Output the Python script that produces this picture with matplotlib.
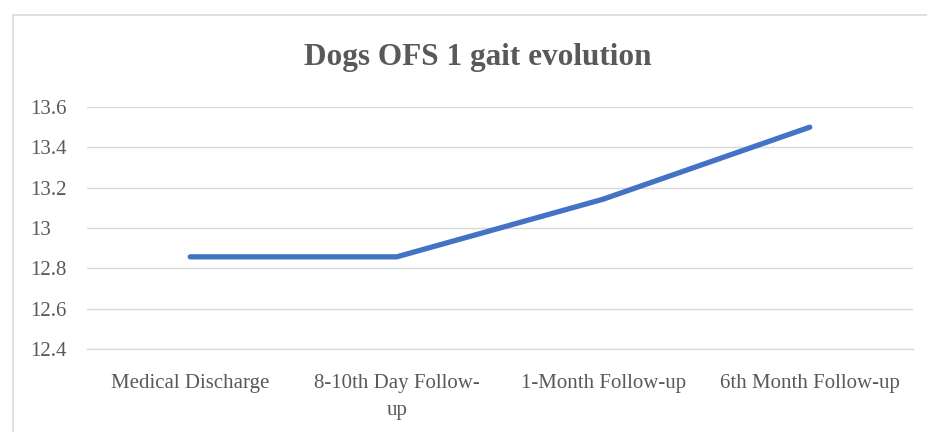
import matplotlib
matplotlib.use("Agg")
import matplotlib.pyplot as plt
import matplotlib.transforms as mtransforms
from matplotlib.patches import Rectangle

categories = ["Medical Discharge", "8-10th Day Follow-\nup", "1-Month Follow-up", "6th Month Follow-up"]
values = [12.857, 12.857, 13.143, 13.5]
yticks = [12.4, 12.6, 12.8, 13.0, 13.2, 13.4, 13.6]
ytick_labels = ["12.4", "12.6", "12.8", "13", "13.2", "13.4", "13.6"]

plt.rcParams['font.family'] = ['Liberation Serif', 'DejaVu Serif']
W, H = 927, 432
fig = plt.figure(figsize=(W/100, H/100), dpi=100)
fig.patch.set_facecolor("white")

ax = fig.add_axes([87/W, 83/H, (913-87)/W, (349-107)/H])
x = list(range(len(categories)))
ax.plot(x, values, color="#4472C4", linewidth=3.8, solid_capstyle="round",
        solid_joinstyle="round", zorder=3)
ax.set_xlim(-0.5, len(categories) - 0.5)
ax.set_ylim(12.4, 13.6)
ax.set_yticks(yticks)
ax.set_yticklabels(ytick_labels)
ax.set_xticks(x)
ax.set_xticklabels(categories, linespacing=1.6)
ax.grid(axis="y", color="#d9d9d9", linewidth=1)
ax.set_axisbelow(True)
for s in ["top", "right", "left"]:
    ax.spines[s].set_visible(False)
ax.spines["bottom"].set_color("#d9d9d9")
ax.spines["bottom"].set_linewidth(1)
ax.tick_params(axis="both", length=0, labelsize=15, labelcolor="#595959")
ax.tick_params(axis="x", pad=18)
for lbl in ax.get_yticklabels():
    lbl.set_horizontalalignment("left")
    lbl.set_transform(mtransforms.blended_transform_factory(fig.transFigure, ax.transData))
    lbl.set_x(30/W)

fig.text(478/W, 1 - 65/H, "Dogs OFS 1 gait evolution", ha="center", va="baseline",
         fontsize=22.5, fontweight="bold", color="#595959")

fig.patches.append(Rectangle((12.5/W, -0.1), 1.2, 1 - 14.5/H + 0.1, transform=fig.transFigure,
                             fill=False, edgecolor="#d9d9d9", linewidth=1.2))

fig.savefig("out.png", dpi=100, facecolor="white")
